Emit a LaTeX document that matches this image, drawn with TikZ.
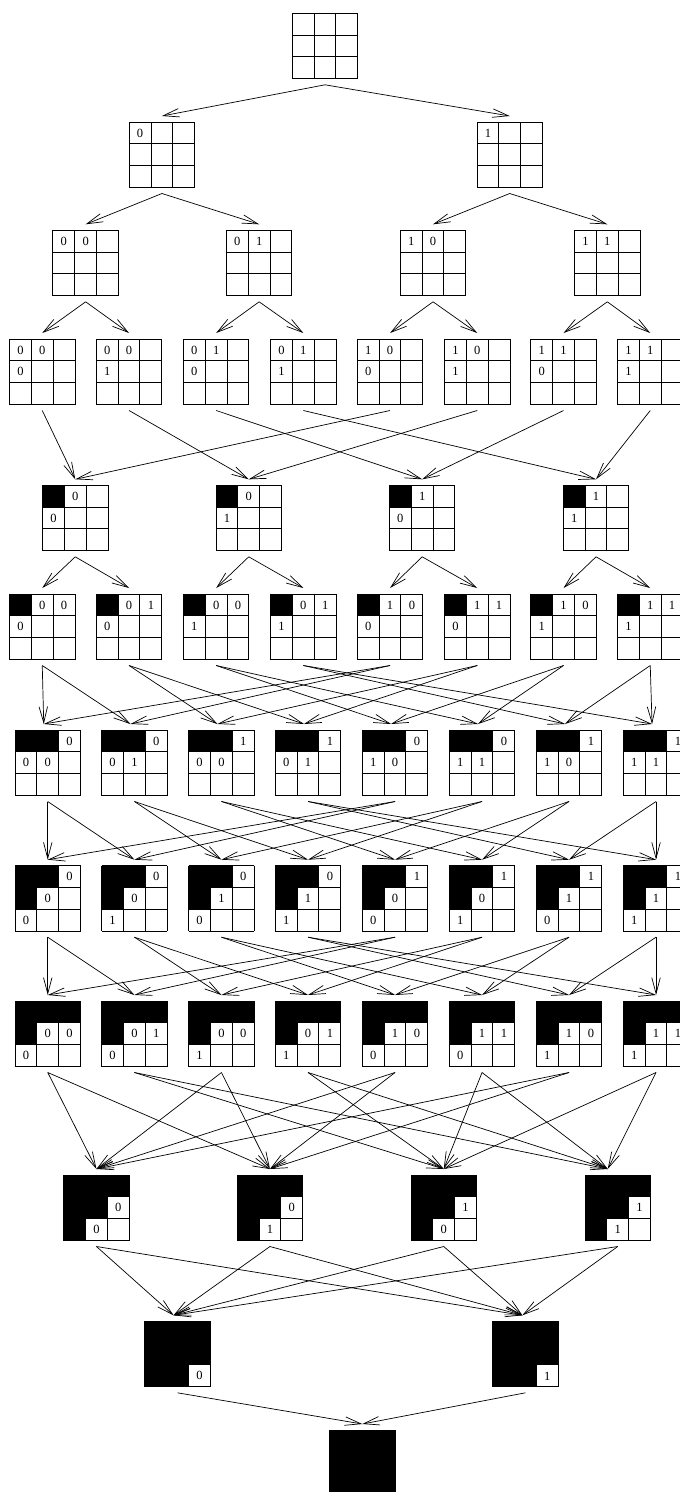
\documentclass[tikz,border=0pt]{standalone}
\usepackage{fontspec}
\setmainfont{Liberation Serif}
\usetikzlibrary{arrows.meta}
\tikzset{
  gbox/.style={draw=none, minimum width=65.5pt, minimum height=65.5pt, inner sep=0pt, outer xsep=0pt, outer ysep=6pt},
  arr/.style={line width=0.7pt, -{Straight Barb[length=16pt,width=8.5pt]}},
  gline/.style={line width=1pt},
  lbl/.style={font=\fontsize{12.5}{12.5}\selectfont, inner sep=0pt},
}
\newcommand\cw{21.8333}
\newcommand\drawgrid[5]{%
  \node[gbox] (#1) at ({#2+32.75},{#3+32.75}) {};
  \def\blist{#4}\def\llist{#5}%
  \ifx\blist\empty\else
    \foreach \r/\c in {#4} {\fill ({#2+\c*\cw},{#3+\r*\cw}) rectangle ++(\cw,\cw);}
  \fi
  \foreach \k in {0,1,2,3} {
    \draw[gline] ({#2+\k*\cw},#3) -- ++(0,65.5);
    \draw[gline] (#2,{#3+\k*\cw}) -- ++(65.5,0);
  }
  \ifx\llist\empty\else
    \foreach \r/\c/\t in {#5} {\node[lbl] at ({#2+(\c+0.5)*\cw},{#3+(\r+0.5)*\cw}) {\t};}
  \fi
}
\begin{document}
\begin{tikzpicture}[x=1pt,y=-1pt]
\useasboundingbox (0,0) rectangle (680,1492);
\fill[white] (0,0) rectangle (680,1492);
\clip (0,0) rectangle (680,1492);
% row 0
\drawgrid{r0n0}{292.3}{13.3}{}{}
% row 1
\drawgrid{r1n0}{129.2}{122}{}{0/0/0}
\drawgrid{r1n1}{477}{122}{}{0/0/1}
% row 2
\drawgrid{r2n0}{52.9}{230.3}{}{0/0/0,0/1/0}
\drawgrid{r2n1}{226.4}{230.3}{}{0/0/0,0/1/1}
\drawgrid{r2n2}{400.3}{230.3}{}{0/0/1,0/1/0}
\drawgrid{r2n3}{574.6}{230.3}{}{0/0/1,0/1/1}
% row 3
\drawgrid{r3n0}{9.5}{339}{}{0/0/0,0/1/0,1/0/0}
\drawgrid{r3n1}{96.3}{339}{}{0/0/0,0/1/0,1/0/1}
\drawgrid{r3n2}{183.4}{339}{}{0/0/0,0/1/1,1/0/0}
\drawgrid{r3n3}{270.6}{339}{}{0/0/0,0/1/1,1/0/1}
\drawgrid{r3n4}{357.3}{339}{}{0/0/1,0/1/0,1/0/0}
\drawgrid{r3n5}{444.5}{339}{}{0/0/1,0/1/0,1/0/1}
\drawgrid{r3n6}{530.8}{339}{}{0/0/1,0/1/1,1/0/0}
\drawgrid{r3n7}{617.5}{339}{}{0/0/1,0/1/1,1/0/1}
% row 4
\drawgrid{r4n0}{42.5}{485.3}{0/0}{0/1/0,1/0/0}
\drawgrid{r4n1}{216}{485.3}{0/0}{0/1/0,1/0/1}
\drawgrid{r4n2}{389.4}{485.3}{0/0}{0/1/1,1/0/0}
\drawgrid{r4n3}{563.3}{485.3}{0/0}{0/1/1,1/0/1}
% row 5
\drawgrid{r5n0}{9.5}{594}{0/0}{0/1/0,0/2/0,1/0/0}
\drawgrid{r5n1}{96.3}{594}{0/0}{0/1/0,0/2/1,1/0/0}
\drawgrid{r5n2}{183.4}{594}{0/0}{0/1/0,0/2/0,1/0/1}
\drawgrid{r5n3}{270.6}{594}{0/0}{0/1/0,0/2/1,1/0/1}
\drawgrid{r5n4}{357.3}{594}{0/0}{0/1/1,0/2/0,1/0/0}
\drawgrid{r5n5}{444.5}{594}{0/0}{0/1/1,0/2/1,1/0/0}
\drawgrid{r5n6}{530.8}{594}{0/0}{0/1/1,0/2/0,1/0/1}
\drawgrid{r5n7}{617.5}{594}{0/0}{0/1/1,0/2/1,1/0/1}
% row 6
\drawgrid{r6n0}{15}{730}{0/0,0/1}{0/2/0,1/0/0,1/1/0}
\drawgrid{r6n1}{101.7}{730}{0/0,0/1}{0/2/0,1/0/0,1/1/1}
\drawgrid{r6n2}{188.7}{730}{0/0,0/1}{0/2/1,1/0/0,1/1/0}
\drawgrid{r6n3}{275.3}{730}{0/0,0/1}{0/2/1,1/0/0,1/1/1}
\drawgrid{r6n4}{362.3}{730}{0/0,0/1}{0/2/0,1/0/1,1/1/0}
\drawgrid{r6n5}{449.3}{730}{0/0,0/1}{0/2/0,1/0/1,1/1/1}
\drawgrid{r6n6}{536.3}{730}{0/0,0/1}{0/2/1,1/0/1,1/1/0}
\drawgrid{r6n7}{623.3}{730}{0/0,0/1}{0/2/1,1/0/1,1/1/1}
% row 7
\drawgrid{r7n0}{15}{865.7}{0/0,0/1,1/0}{0/2/0,1/1/0,2/0/0}
\drawgrid{r7n1}{101.7}{865.7}{0/0,0/1,1/0}{0/2/0,1/1/0,2/0/1}
\drawgrid{r7n2}{188.7}{865.7}{0/0,0/1,1/0}{0/2/0,1/1/1,2/0/0}
\drawgrid{r7n3}{275.3}{865.7}{0/0,0/1,1/0}{0/2/0,1/1/1,2/0/1}
\drawgrid{r7n4}{362.3}{865.7}{0/0,0/1,1/0}{0/2/1,1/1/0,2/0/0}
\drawgrid{r7n5}{449.3}{865.7}{0/0,0/1,1/0}{0/2/1,1/1/0,2/0/1}
\drawgrid{r7n6}{536.3}{865.7}{0/0,0/1,1/0}{0/2/1,1/1/1,2/0/0}
\drawgrid{r7n7}{623.3}{865.7}{0/0,0/1,1/0}{0/2/1,1/1/1,2/0/1}
% row 8
\drawgrid{r8n0}{15}{1001}{0/0,0/1,0/2,1/0}{1/1/0,1/2/0,2/0/0}
\drawgrid{r8n1}{101.7}{1001}{0/0,0/1,0/2,1/0}{1/1/0,1/2/1,2/0/0}
\drawgrid{r8n2}{188.7}{1001}{0/0,0/1,0/2,1/0}{1/1/0,1/2/0,2/0/1}
\drawgrid{r8n3}{275.3}{1001}{0/0,0/1,0/2,1/0}{1/1/0,1/2/1,2/0/1}
\drawgrid{r8n4}{362.3}{1001}{0/0,0/1,0/2,1/0}{1/1/1,1/2/0,2/0/0}
\drawgrid{r8n5}{449.3}{1001}{0/0,0/1,0/2,1/0}{1/1/1,1/2/1,2/0/0}
\drawgrid{r8n6}{536.3}{1001}{0/0,0/1,0/2,1/0}{1/1/1,1/2/0,2/0/1}
\drawgrid{r8n7}{623.3}{1001}{0/0,0/1,0/2,1/0}{1/1/1,1/2/1,2/0/1}
% row 9
\drawgrid{r9n0}{63.7}{1175}{0/0,0/1,0/2,1/0,1/1,2/0}{1/2/0,2/1/0}
\drawgrid{r9n1}{237.2}{1175}{0/0,0/1,0/2,1/0,1/1,2/0}{1/2/0,2/1/1}
\drawgrid{r9n2}{411}{1175}{0/0,0/1,0/2,1/0,1/1,2/0}{1/2/1,2/1/0}
\drawgrid{r9n3}{585}{1175}{0/0,0/1,0/2,1/0,1/1,2/0}{1/2/1,2/1/1}
% row 10
\drawgrid{r10n0}{144.8}{1321.3}{0/0,0/1,0/2,1/0,1/1,1/2,2/0,2/1}{2/2/0}
\drawgrid{r10n1}{492.6}{1321.3}{0/0,0/1,0/2,1/0,1/1,1/2,2/0,2/1}{2/2/1}
% row 11
\drawgrid{r11n0}{329.5}{1430}{0/0,0/1,0/2,1/0,1/1,1/2,2/0,2/1,2/2}{}
% ---------- connectors ----------
\draw[arr] (r0n0.south) -- (r1n0.north);
\draw[arr] (r0n0.south) -- (r1n1.north);
\foreach \i in {0,1}{
  \pgfmathtruncatemacro\ta{2*\i}\pgfmathtruncatemacro\tb{2*\i+1}
  \draw[arr] (r1n\i.south) -- (r2n\ta.north);
  \draw[arr] (r1n\i.south) -- (r2n\tb.north);
}
\foreach \i in {0,...,3}{
  \pgfmathtruncatemacro\ta{2*\i}\pgfmathtruncatemacro\tb{2*\i+1}
  \draw[arr] (r2n\i.south) -- (r3n\ta.north);
  \draw[arr] (r2n\i.south) -- (r3n\tb.north);
}
\foreach \i in {0,...,7}{
  \pgfmathtruncatemacro\ta{mod(\i,4)}
  \draw[arr] (r3n\i.south) -- (r4n\ta.north);
}
\foreach \i in {0,...,3}{
  \pgfmathtruncatemacro\ta{2*\i}\pgfmathtruncatemacro\tb{2*\i+1}
  \draw[arr] (r4n\i.south) -- (r5n\ta.north);
  \draw[arr] (r4n\i.south) -- (r5n\tb.north);
}
\foreach \i in {0,...,7}{
  \pgfmathtruncatemacro\ta{2*mod(\i,4)}\pgfmathtruncatemacro\tb{2*mod(\i,4)+1}
  \draw[arr] (r5n\i.south) -- ([xshift=-4pt]r6n\ta.north);
  \draw[arr] (r5n\i.south) -- ([xshift=-4pt]r6n\tb.north);
}
\foreach \i in {0,...,7}{
  \pgfmathtruncatemacro\ta{2*mod(\i,4)}\pgfmathtruncatemacro\tb{2*mod(\i,4)+1}
  \draw[arr] (r6n\i.south) -- (r7n\ta.north);
  \draw[arr] (r6n\i.south) -- (r7n\tb.north);
}
\foreach \i in {0,...,7}{
  \pgfmathtruncatemacro\ta{2*mod(\i,4)}\pgfmathtruncatemacro\tb{2*mod(\i,4)+1}
  \draw[arr] (r7n\i.south) -- (r8n\ta.north);
  \draw[arr] (r7n\i.south) -- (r8n\tb.north);
}
\coordinate (t90) at (r9n0.north);
\coordinate (t91) at (r9n1.north);
\coordinate (t92) at (r9n2.north);
\coordinate (t93) at ([xshift=-10pt]r9n3.north);
\foreach \i in {0,...,7}{
  \pgfmathtruncatemacro\ta{2*mod(\i,2)}\pgfmathtruncatemacro\tb{2*mod(\i,2)+1}
  \draw[arr] (r8n\i.south) -- (t9\ta);
  \draw[arr] (r8n\i.south) -- (t9\tb);
}
\foreach \i in {0,...,3}{
  \draw[arr] (r9n\i.south) -- ([xshift=-4pt]r10n0.north);
  \draw[arr] (r9n\i.south) -- ([xshift=-3pt]r10n1.north);
}
\draw[arr] (r10n0.south) -- (r11n0.north);
\draw[arr] (r10n1.south) -- (r11n0.north);
\end{tikzpicture}
\end{document}
